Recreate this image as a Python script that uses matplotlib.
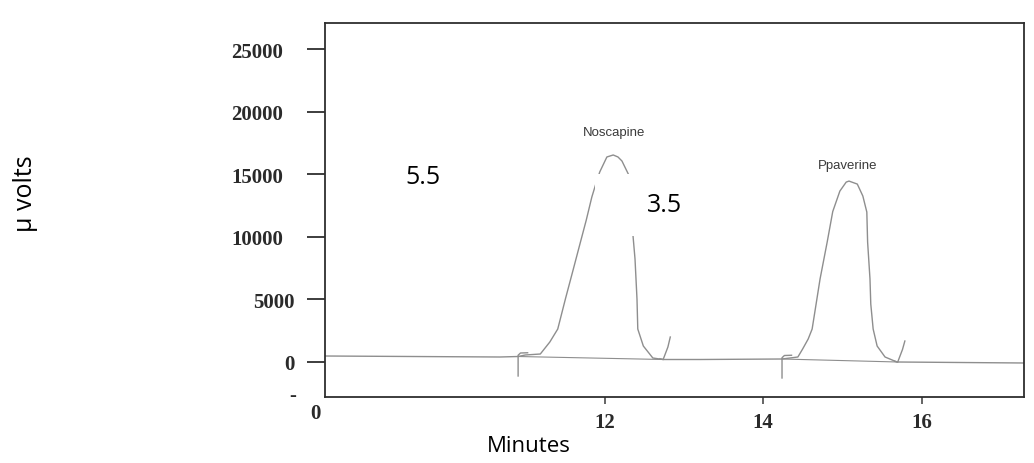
import matplotlib
matplotlib.use("Agg")
import matplotlib.pyplot as plt
from matplotlib.patches import Rectangle
from matplotlib.transforms import ScaledTranslation

# chromatogram trace (minutes, micro volts)
t_min = [8.47, 10.68, 10.91, 11.00, 11.19, 11.31, 11.41, 11.51, 11.60, 11.69,
         11.77, 11.84, 11.89, 11.94, 12.03, 12.11, 12.17, 12.22, 12.30, 12.33,
         12.36, 12.385, 12.41, 12.42, 12.49, 12.61, 12.74, 13.21, 14.24, 14.34,
         14.44, 14.50, 14.57, 14.62, 14.67, 14.72, 14.81, 14.88, 14.97, 15.05,
         15.085, 15.19, 15.26, 15.31, 15.32, 15.35, 15.36, 15.39, 15.44, 15.54,
         15.69, 17.29]
uv = [450, 370, 410, 530, 610, 1570, 2610, 5100, 7250, 9420,
      11340, 13180, 14220, 15190, 16390, 16550, 16390, 16070, 15030, 13020,
      10060, 8220, 5010, 2610, 1250, 290, 170, 170, 210, 290,
      370, 1010, 1810, 2610, 4610, 6620, 9580, 12020, 13660, 14380,
      14460, 14220, 13260, 11980, 9580, 6620, 4610, 2610, 1250, 370,
      -30, -110]

# peaks and integration marks
peak_names = ["Noscapine", "Ppaverine"]
peak_label_t = [12.12, 15.07]
peak_label_uv = [18390, 15750]
peak_start = [10.91, 14.24]
peak_end = [12.74, 15.70]
start_base_uv = [410, 210]
end_base_uv = [170, -30]
mark_depth_uv = [-1150, -1310]
hook_top_uv = [1970, 1650]

# typed-over values
note_text = ["5.5", "3.5"]
note_t = [9.71, 12.76]
note_uv = [14790, 12620]

y_ticks = [0, 5000, 10000, 15000, 20000, 25000]
x_ticks = [12, 14, 16]
x_left, x_right = 8.473, 17.293
y_low, y_high = -2835, 27118

fig = plt.figure(figsize=(10.34, 4.64), dpi=100)
ax = fig.add_axes([0.3143, 0.1422, 0.676, 0.806])

line_c = "#8e8e8e"
ax.plot(t_min, uv, color=line_c, lw=1.0, zorder=2)
for i in range(len(peak_start)):
    s, e = peak_start[i], peak_end[i]
    ax.plot([s, e], [start_base_uv[i], end_base_uv[i]], color=line_c, lw=0.8, zorder=2)
    ax.plot([s, s, s + 0.03, s + 0.12], [mark_depth_uv[i], start_base_uv[i] + 100,
            start_base_uv[i] + 280, start_base_uv[i] + 300], color=line_c, lw=1.0, zorder=2)
    ax.plot([e - 0.04, e, e + 0.06, e + 0.09], [end_base_uv[i] + 60, end_base_uv[i],
            end_base_uv[i] + 1000, hook_top_uv[i]], color=line_c, lw=1.0, zorder=2)
    ax.text(peak_label_t[i], peak_label_uv[i], peak_names[i], ha="center", va="center",
            fontsize=9.5, color="#3a3a3a", family="Liberation Sans")

# white patch pasted over the first peak
ax.add_patch(Rectangle((11.88, 10060), 1.3, 4970, facecolor="white", edgecolor="none", zorder=3))
for i in range(len(note_text)):
    ax.text(note_t[i], note_uv[i], note_text[i], ha="center", va="center",
            fontsize=18, family="Open Sans", color="black", zorder=4)

ax.set_xlim(x_left, x_right)
ax.set_ylim(y_low, y_high)

for sp in ax.spines.values():
    sp.set_color("#2e2e2e")
    sp.set_linewidth(1.3)

ax.set_yticks(y_ticks)
ax.set_yticklabels([str(v) for v in y_ticks])
ax.set_xticks([x_left] + x_ticks)
ax.set_xticklabels(["0"] + [str(v) for v in x_ticks])
ax.tick_params(axis="y", length=13, width=1.3, color="#2e2e2e", pad=17)
ax.tick_params(axis="x", length=5, width=1.2, color="#4a4a4a", pad=6)
ax.xaxis.get_major_ticks()[0].tick1line.set_visible(False)

for lab in ax.get_yticklabels() + ax.get_xticklabels():
    lab.set_family("Liberation Serif")
    lab.set_fontweight("bold")
    lab.set_fontsize(15)
    lab.set_color("#2a2a2a")

ylabs = ax.get_yticklabels()
for lab in ylabs[:2]:
    lab.set_transform(lab.get_transform() + ScaledTranslation(0.11, 0, fig.dpi_scale_trans))
xlab0 = ax.get_xticklabels()[0]
xlab0.set_transform(xlab0.get_transform() + ScaledTranslation(-0.10, 0.09, fig.dpi_scale_trans))

fig.text(293 / 1034, 1 - 396 / 464, "-", ha="center", va="center", fontsize=15,
         family="Liberation Serif", fontweight="bold", color="#2a2a2a")

fig.text(529 / 1034, 1 - 447 / 464, "Minutes", ha="center", va="center",
         fontsize=16, family="Open Sans")
fig.text(25 / 1034, 1 - 194 / 464, "\u00b5 volts", ha="center", va="center",
         rotation=90, fontsize=18, family="Open Sans")

fig.savefig("out.png", dpi=100, facecolor="white")
